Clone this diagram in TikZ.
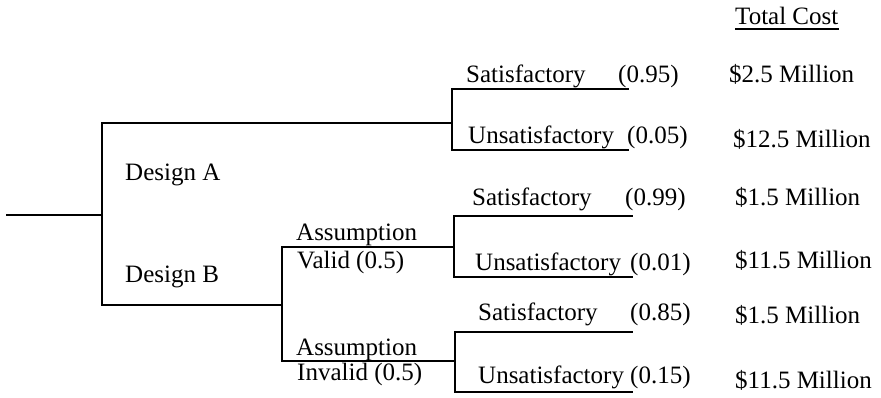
\documentclass[tikz,border=0pt]{standalone}
\usepackage{fontspec}
\setmainfont{Liberation Serif}
\begin{document}
\begin{tikzpicture}[x=1pt,y=-1pt,
  branch/.style={line width=1.6pt,line cap=rect},
  lbl/.style={anchor=base west,inner sep=0pt,font=\fontsize{25}{30}\selectfont}]
\useasboundingbox (0,0) rectangle (881,397);

% decision node and its two designs
\coordinate (root) at (7,215);
\coordinate (dec)  at (102,215);
\coordinate (decA) at (102,123);
\coordinate (decB) at (102,305);
% chance node for design A
\coordinate (chA)  at (452,123);
\coordinate (chAt) at (452,89);
\coordinate (chAb) at (452,150);
\coordinate (endAt) at (628,89);
\coordinate (endAb) at (628,150);
% chance node on the design B assumption
\coordinate (chB)  at (282,305);
\coordinate (chBt) at (282,247);
\coordinate (chBb) at (282,361);
% outcome nodes when the assumption is valid / invalid
\coordinate (chV)  at (454,247);
\coordinate (chVt) at (454,216);
\coordinate (chVb) at (454,277);
\coordinate (endVt) at (632,216);
\coordinate (endVb) at (632,277);
\coordinate (chI)  at (455,361);
\coordinate (chIt) at (455,332);
\coordinate (chIb) at (455,392);
\coordinate (endIt) at (632,332);
\coordinate (endIb) at (632,392);

% tree branches
\draw[branch] (root) -- (dec);
\draw[branch] (decA) -- (decB);
\draw[branch] (decA) -- (chA);
\draw[branch] (decB) -- (chB);
\draw[branch] (endAt) -- (chAt) -- (chAb) -- (endAb);
\draw[branch] (chBt) -- (chBb);
\draw[branch] (chBt) -- (chV);
\draw[branch] (chBb) -- (chI);
\draw[branch] (endVt) -- (chVt) -- (chVb) -- (endVb);
\draw[branch] (endIt) -- (chIt) -- (chIb) -- (endIb);

% branch labels
\node[lbl] (dA) at (125,180) {Design A};
\node[lbl] (dB) at (125,282) {Design B};
\node[lbl] (asV) at (296,240) {Assumption};
\node[lbl] (vV) at (297,268) {Valid (0.5)};
\node[lbl] (asI) at (296,355) {Assumption};
\node[lbl] (vI) at (297,380) {Invalid (0.5)};

\node[lbl] (sA) at (466,82) {Satisfactory};
\node[lbl] (pSA) at (618,82) {(0.95)};
\node[lbl] (uA) at (468,143) {Unsatisfactory};
\node[lbl] (pUA) at (627,143) {(0.05)};
\node[lbl] (sV) at (472,205) {Satisfactory};
\node[lbl] (pSV) at (625,205) {(0.99)};
\node[lbl] (uV) at (475,270) {Unsatisfactory};
\node[lbl] (pUV) at (630,270) {(0.01)};
\node[lbl] (sI) at (478,320) {Satisfactory};
\node[lbl] (pSI) at (630,320) {(0.85)};
\node[lbl] (uI) at (478,383) {Unsatisfactory};
\node[lbl] (pUI) at (630,383) {(0.15)};

% cost column
\node[lbl] (tc) at (735,24) {Total Cost};
\draw[line width=1.1pt] ([yshift=-5pt]tc.base west) -- ([yshift=-5pt]tc.base east);
\node[lbl] (c1) at (729,82) {\$2.5 Million};
\node[lbl] (c2) at (733,147) {\$12.5 Million};
\node[lbl] (c3) at (735,205) {\$1.5 Million};
\node[lbl] (c4) at (735,268) {\$11.5 Million};
\node[lbl] (c5) at (735,323) {\$1.5 Million};
\node[lbl] (c6) at (735,388) {\$11.5 Million};
\end{tikzpicture}
\end{document}
